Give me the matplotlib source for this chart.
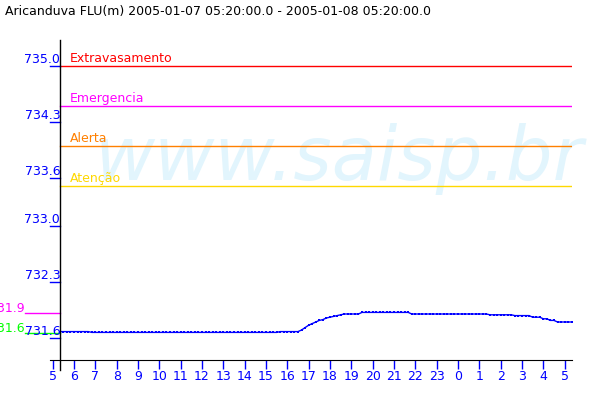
import numpy as np
import matplotlib
matplotlib.use("Agg")
import matplotlib.pyplot as plt

plt.rcParams['font.family'] = ['DejaVu Sans']

# ---- data -------------------------------------------------------
title = "Aricanduva FLU(m) 2005-01-07 05:20:00.0 - 2005-01-08 05:20:00.0"

# level every 10 min, 2005-01-07 05:20 -> 2005-01-08 05:20
levels = [
    731.68, 731.68, 731.68, 731.68,                          # 05:20-05:50
    731.68, 731.68, 731.68, 731.68, 731.68, 731.67,          # 06
    731.67, 731.67, 731.67, 731.67, 731.67, 731.67,          # 07
    731.67, 731.67, 731.67, 731.67, 731.67, 731.67,          # 08
    731.67, 731.67, 731.67, 731.67, 731.67, 731.67,          # 09
    731.67, 731.67, 731.67, 731.67, 731.67, 731.67,          # 10
    731.67, 731.67, 731.67, 731.67, 731.67, 731.67,          # 11
    731.67, 731.67, 731.67, 731.67, 731.67, 731.67,          # 12
    731.67, 731.67, 731.67, 731.67, 731.67, 731.67,          # 13
    731.67, 731.67, 731.67, 731.67, 731.67, 731.67,          # 14
    731.67, 731.67, 731.67, 731.67, 731.68, 731.68,          # 15
    731.68, 731.68, 731.68, 731.68, 731.70, 731.73,          # 16
    731.76, 731.78, 731.80, 731.82, 731.83, 731.85,          # 17
    731.86, 731.87, 731.88, 731.89, 731.90, 731.90,          # 18
    731.90, 731.90, 731.90, 731.92, 731.92, 731.92,          # 19
    731.92, 731.92, 731.92, 731.92, 731.92, 731.92,          # 20
    731.92, 731.92, 731.92, 731.92, 731.92, 731.90,          # 21
    731.90, 731.90, 731.90, 731.90, 731.90, 731.90,          # 22
    731.90, 731.90, 731.90, 731.90, 731.90, 731.90,          # 23
    731.90, 731.90, 731.90, 731.90, 731.90, 731.90,          # 00
    731.90, 731.90, 731.90, 731.89, 731.89, 731.89,          # 01
    731.89, 731.89, 731.89, 731.89, 731.88, 731.88,          # 02
    731.88, 731.88, 731.88, 731.86, 731.86, 731.86,          # 03
    731.84, 731.84, 731.82, 731.82, 731.80, 731.80,          # 04
    731.80, 731.80, 731.80,                                  # 05:00-05:20
]
t_start = 5 + 20 / 60.0
t_end = t_start + 24

thr_names = ["Extravasamento", "Emergencia", "Alerta", "Atenção"]
thr_values = [735.0, 734.5, 734.0, 733.5]
thr_colors = ["#ff0000", "#ff00ff", "#ff8000", "#ffd800"]

side_names = ["731.9", "731.6"]
side_values = [731.91, 731.665]
side_colors = ["#ff00ff", "#00ff00"]

yticks = [735.0, 734.3, 733.6, 733.0, 732.3, 731.6]
xticks = list(range(5, 30))
xlabels = [str(h % 24) for h in xticks]

# ---- figure -----------------------------------------------------
W, H = 600, 400
fig = plt.figure(figsize=(6, 4), dpi=100)
ax = fig.add_axes([50 / W, 40 / H, 522 / W, 320 / H])

px_per_h = 21.33
x0 = 5 + (50 - 52.7) / px_per_h
x1 = 5 + (572 - 52.7) / px_per_h
ax.set_xlim(x0, x1)
ax.set_ylim(735 - 294 / 80.0, 735 + 26 / 80.0)

blue = "#0000ff"
fs = 9

for s in ["top", "right", "left"]:
    ax.spines[s].set_visible(False)
ax.spines["bottom"].set_color("black")

# watermark
ax.text(6.98, 733.575, "www.saisp.br", fontsize=53, style="italic",
        color="#e2f5fd", ha="left", va="baseline", zorder=0)

# vertical axis line (runs a bit below the x axis)
ax.plot([t_start, t_start], [ax.get_ylim()[1], 731.2], color="black",
        lw=1, clip_on=False, zorder=5)

# thresholds
for name, v, c in zip(thr_names, thr_values, thr_colors):
    ax.plot([t_start, t_end], [v, v], color=c, lw=1, zorder=2)
    ax.text(t_start + 0.47, v + 0.05, name, color=c, fontsize=fs,
            ha="left", va="baseline")

# side markers on the left
xs = 5 + (25 - 52.7) / px_per_h
for name, v, c in zip(side_names, side_values, side_colors):
    ax.plot([xs, t_start], [v, v], color=c, lw=1, clip_on=False, zorder=2)
    ax.text(xs, v + 0.01, name, color=c, fontsize=fs, ha="right",
            va="baseline", clip_on=False)

# series
times = t_start + np.arange(len(levels)) / 6.0
ax.plot(times, levels, color=blue, lw=1, marker="s", markersize=1.6,
        markeredgewidth=0, zorder=4)

# y ticks: short marks left of the axis, label sitting on the mark
for v in yticks:
    ax.plot([t_start - 10 / px_per_h, t_start], [v, v], color=blue, lw=1,
            clip_on=False, zorder=3)
    ax.text(t_start + 0.02, v, f"{v:.1f}", color=blue, fontsize=fs,
            ha="right", va="bottom", clip_on=False, zorder=6)
ax.set_yticks([])

ax.set_xticks(xticks)
ax.set_xticklabels(xlabels)
ax.tick_params(axis="x", direction="out", length=6.5, width=1, color=blue,
               labelcolor=blue, labelsize=fs, pad=1)

fig.text(5 / W, 1 - 11 / H, title, fontsize=fs, color="black",
         ha="left", va="center")

fig.savefig("out.png", dpi=100)
